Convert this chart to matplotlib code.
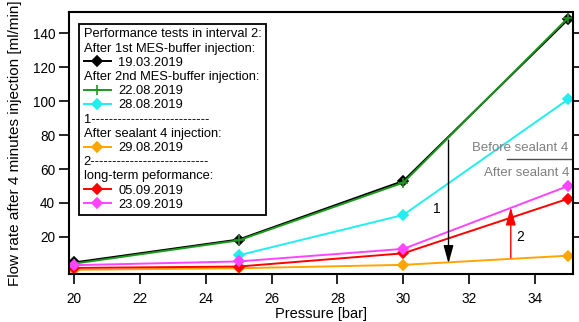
import numpy as np
import matplotlib
matplotlib.use("Agg")
import matplotlib.pyplot as plt
from matplotlib.lines import Line2D

plt.rcParams['font.family'] = ['Liberation Sans', 'DejaVu Sans']

pressure = [20, 25, 30, 35]
mes1_1903 = [5.0, 18.5, 53.0, 148.0]
mes2_2208 = [4.3, 18.0, 52.0, 149.0]
mes2_2808 = [np.nan, 9.2, 33.0, 101.0]
seal_2908 = [0.7, 1.6, 3.6, 9.0]
long_0509 = [1.8, 2.6, 10.4, 42.5]
long_2309 = [3.4, 5.6, 13.0, 50.0]

series = [
    ("19.03.2019", mes1_1903, "black", "D", 5),
    ("22.08.2019", mes2_2208, "#1c9a1c", "+", 7),
    ("28.08.2019", mes2_2808, "#22eeee", "D", 5),
    ("29.08.2019", seal_2908, "#ffa500", "D", 5),
    ("05.09.2019", long_0509, "#ff0000", "D", 5),
    ("23.09.2019", long_2309, "#ff44ff", "D", 5),
]

# legend rows: header text or series label
legend_rows = [
    "Performance tests in interval 2:",
    "After 1st MES-buffer injection:",
    "19.03.2019",
    "After 2nd MES-buffer injection:",
    "22.08.2019",
    "28.08.2019",
    "1" + "-" * 27,
    "After sealant 4 injection:",
    "29.08.2019",
    "2" + "-" * 27,
    "long-term peformance:",
    "05.09.2019",
    "23.09.2019",
]

fig = plt.figure(figsize=(5.79, 3.22), dpi=100)
ax = fig.add_axes([0.1192, 0.149, 0.8705, 0.8137])

lines = {}
for label, vals, color, marker, ms in series:
    ln, = ax.plot(pressure, vals, color=color, lw=1.4, marker=marker, ms=ms,
                  markeredgewidth=1.2, label=label)
    lines[label] = ln

handles = [lines.get(r, Line2D([], [], color='none')) for r in legend_rows]
leg = ax.legend(handles, legend_rows, loc='upper left', bbox_to_anchor=(0.02, 0.955),
                borderaxespad=0, fontsize=9.3, labelspacing=0.17, handlelength=2.1,
                handletextpad=0.6, borderpad=0.35, fancybox=False, framealpha=1,
                edgecolor='black')
leg.get_frame().set_linewidth(1.3)
# header rows: drop the handle so the text starts at the left edge
for col in leg._legend_handle_box.get_children():
    for rowbox in col.get_children():
        kids = rowbox.get_children()
        if len(kids) == 2 and kids[1].get_text() not in lines:
            del kids[0]

# annotations
ax.annotate('', xy=(31.37, 4.5), xytext=(31.37, 77),
            arrowprops=dict(arrowstyle='-|>,head_length=0.9,head_width=0.25',
                            color='black', lw=1, mutation_scale=12, shrinkA=0, shrinkB=0))
ax.text(31.0, 36.5, "1", fontsize=10, ha='center', va='center')
ax.annotate('', xy=(33.26, 37.5), xytext=(33.26, 7.8),
            arrowprops=dict(arrowstyle='-|>,head_length=0.9,head_width=0.25',
                            color='red', lw=1, mutation_scale=12, shrinkA=0, shrinkB=0))
ax.text(33.55, 19.8, "2", fontsize=10, ha='center', va='center')

ax.text(35.0, 72.5, "Before sealant 4", fontsize=9.5, color='#808080', ha='right', va='center')
ax.plot([33.14, 35.15], [65.7, 65.7], color='#505050', lw=1)
ax.text(35.05, 57.4, "After sealant 4", fontsize=9.5, color='#808080', ha='right', va='center')

ax.set_xlim(19.85, 35.15)
ax.set_ylim(-1.8, 152.4)
ax.set_xticks([20, 22, 24, 26, 28, 30, 32, 34])
ax.set_yticks([20, 40, 60, 80, 100, 120, 140])
ax.tick_params(axis='both', direction='out', length=7, width=1.2, labelsize=9.8,
               right=True)
ax.tick_params(axis='x', pad=6)
ax.tick_params(axis='y', pad=3)
for s in ax.spines.values():
    s.set_linewidth(1.5)
ax.set_xlabel("Pressure [bar]", fontsize=10.5, labelpad=1)
ax.set_ylabel("Flow rate after 4 minutes injection [ml/min]", fontsize=11, labelpad=8)

fig.savefig("out.png", dpi=100)
